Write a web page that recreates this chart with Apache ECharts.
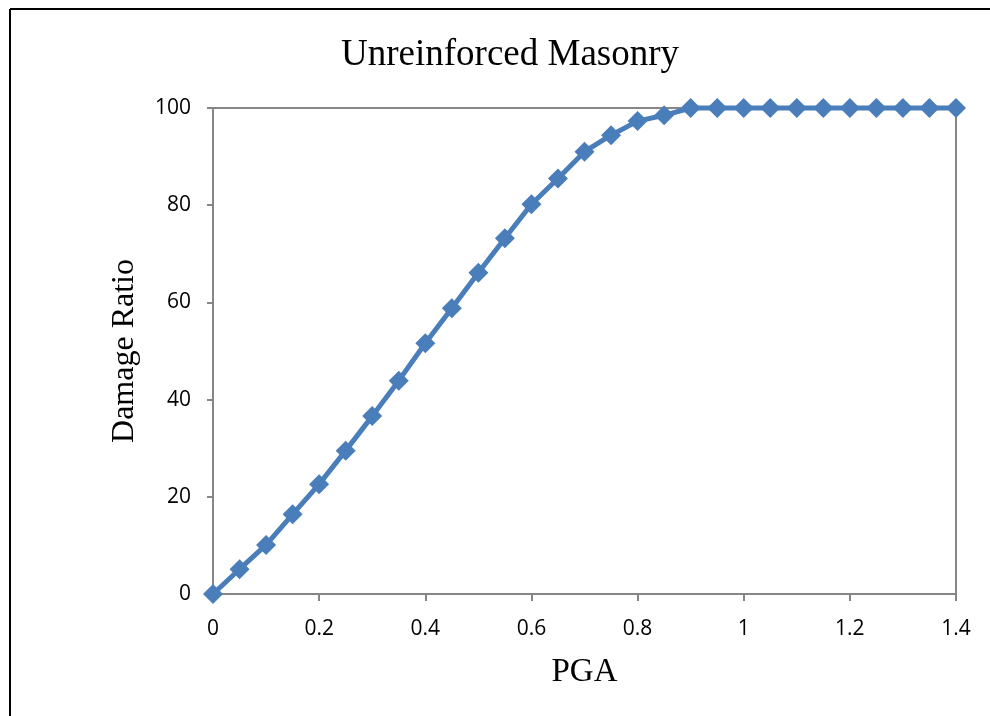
<!DOCTYPE html>
<html>
<head>
<meta charset="utf-8">
<title>Unreinforced Masonry</title>
<script src="https://cdn.jsdelivr.net/npm/echarts@6/dist/echarts.min.js"></script>
<style>
  html, body { margin: 0; padding: 0; background: #fff; }
  #chart { width: 990px; height: 716px; }
</style>
</head>
<body>
<div id="chart"></div>
<script>
// PGA values (x) and damage ratio (y)
const pga = [0, 0.05, 0.1, 0.15, 0.2, 0.25, 0.3, 0.35, 0.4, 0.45, 0.5, 0.55, 0.6, 0.65, 0.7,
  0.75, 0.8, 0.85, 0.9, 0.95, 1, 1.05, 1.1, 1.15, 1.2, 1.25, 1.3, 1.35, 1.4];
const damageRatio = [0, 5.1, 10.1, 16.4, 22.6, 29.5, 36.6, 43.9, 51.6, 58.8, 66.1, 73.2, 80.2, 85.5, 91,
  94.4, 97.3, 98.5, 100, 100, 100, 100, 100, 100, 100, 100, 100, 100, 100];

const axisGrey = '#868686';
const lineBlue = '#4a7ebb';

let myChart = echarts.init(document.getElementById('chart'));
let option;

option = {
  backgroundColor: '#fff',
  animation: false,
  title: {
    text: 'Unreinforced Masonry',
    left: 336,
    top: 32,
    textStyle: { fontFamily: 'Liberation Serif', fontSize: 37, fontWeight: 'normal', color: '#000' }
  },
  // outer frame lines, as in the original figure
  graphic: [
    { type: 'line', shape: { x1: 10, y1: 9, x2: 990, y2: 9 }, style: { stroke: '#000', lineWidth: 2 } },
    { type: 'line', shape: { x1: 10, y1: 9, x2: 10, y2: 716 }, style: { stroke: '#000', lineWidth: 2 } }
  ],
  grid: {
    left: 213,
    right: 34,
    top: 108,
    bottom: 122,
    show: true,
    borderColor: axisGrey,
    borderWidth: 2
  },
  xAxis: {
    type: 'value',
    min: 0,
    max: 1.4,
    interval: 0.2,
    name: 'PGA',
    nameLocation: 'middle',
    nameGap: 62,
    nameTextStyle: { fontFamily: 'Liberation Serif', fontSize: 33, color: '#000' },
    axisLine: { show: true, lineStyle: { color: axisGrey, width: 2 } },
    axisTick: { show: true, length: 7, lineStyle: { color: axisGrey, width: 2 } },
    axisLabel: { fontFamily: 'Open Sans', fontSize: 21, color: '#000', margin: 25 },
    splitLine: { show: false }
  },
  yAxis: {
    type: 'value',
    min: 0,
    max: 100,
    interval: 20,
    name: 'Damage Ratio',
    nameLocation: 'middle',
    nameGap: 72,
    nameTextStyle: { fontFamily: 'Liberation Serif', fontSize: 32, color: '#000' },
    axisLine: { show: true, lineStyle: { color: axisGrey, width: 2 } },
    axisTick: { show: true, length: 6, lineStyle: { color: axisGrey, width: 2 } },
    axisLabel: { fontFamily: 'Open Sans', fontSize: 21, color: '#000', margin: 22 },
    splitLine: { show: false }
  },
  series: [
    {
      name: 'Damage Ratio',
      type: 'line',
      data: pga.map((x, i) => [x, damageRatio[i]]),
      symbol: 'diamond',
      symbolSize: 20,
      clip: false,
      lineStyle: { color: lineBlue, width: 5 },
      itemStyle: { color: lineBlue }
    }
  ]
};

option && myChart.setOption(option);
</script>
</body>
</html>
